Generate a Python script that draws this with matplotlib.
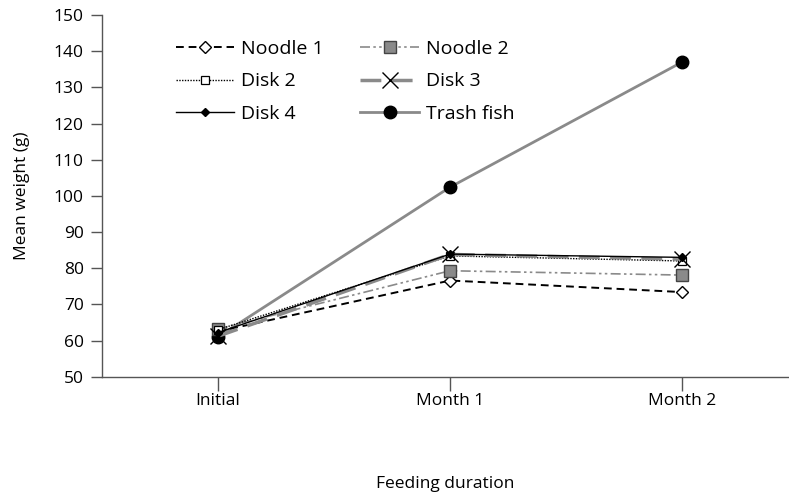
import matplotlib.pyplot as plt
import numpy as np

plt.rcParams['font.family'] = ['Open Sans', 'DejaVu Sans']

# ---------------------- Data ---------------------- #
periods = ['Initial', 'Month 1', 'Month 2']
noodle1 = [62.5, 76.6, 73.4]
noodle2 = [63.2, 79.3, 78.1]
disk2 = [63.0, 83.4, 82.0]
disk3 = [61.2, 83.8, 82.5]
disk4 = [62.2, 83.9, 83.0]
trash_fish = [61.0, 102.4, 137.0]

x = np.arange(len(periods))

fig = plt.figure(figsize=(7.89, 4.99), dpi=100)
ax = fig.add_axes([0.129, 0.245, 0.871, 0.725])

ax.plot(x, trash_fish, color='#8a8a8a', lw=2.0, marker='o', ms=9,
        mfc='black', mec='black', label='Trash fish', zorder=3)
ax.plot(x, noodle1, color='black', lw=1.4, ls=(0, (4, 2.5)), marker='D', ms=6,
        mfc='white', mec='black', mew=1.0, label='Noodle 1', zorder=4)
ax.plot(x, noodle2, color='#8a8a8a', lw=1.2, ls=(0, (6, 2, 1.5, 2, 1.5, 2)), marker='s', ms=8,
        mfc='#8a8a8a', mec='#444444', mew=1.0, label='Noodle 2', zorder=4)
ax.plot(x, disk2, color='black', lw=1.0, ls=(0, (1, 1)), marker='s', ms=5.5,
        mfc='white', mec='black', mew=0.9, label='Disk 2', zorder=4)
ax.plot(x, disk3, color='#8a8a8a', lw=2.5, ls=(0, (6, 3)), marker='x', ms=11,
        mec='black', mew=1.0, label='Disk 3', zorder=5)
ax.plot(x, disk4, color='black', lw=1.0, marker='D', ms=4,
        mfc='black', mec='black', label='Disk 4', zorder=6)

ax.set_xlim(-0.5, 2.46)
ax.set_ylim(50, 150)
ax.set_yticks(range(50, 151, 10))
ax.set_xticks(x)
ax.set_xticklabels(periods)

for side in ['top', 'right']:
    ax.spines[side].set_visible(False)
for side in ['left', 'bottom']:
    ax.spines[side].set_color('#555555')
    ax.spines[side].set_linewidth(1.0)
ax.tick_params(axis='y', direction='out', length=8, width=1.0, color='#555555',
               labelsize=12.5, pad=5)
ax.tick_params(axis='x', direction='out', length=10, width=1.0, color='#555555',
               labelsize=12.5, pad=2)

ax.set_ylabel('Mean weight (g)', fontsize=12.5, labelpad=17)
ax.set_xlabel('Feeding duration', fontsize=12.5, labelpad=48)

handles, labels = ax.get_legend_handles_labels()
order = ['Noodle 1', 'Disk 2', 'Disk 4', 'Noodle 2', 'Disk 3', 'Trash fish']
hmap = dict(zip(labels, handles))
ax.legend([hmap[k] for k in order], order, ncol=2, frameon=False,
          loc='upper left', bbox_to_anchor=(0.085, 0.975), fontsize=14,
          handlelength=3.0, handletextpad=0.35, labelspacing=0.76,
          columnspacing=1.9, borderpad=0.3)

fig.savefig('out.png', dpi=100)
